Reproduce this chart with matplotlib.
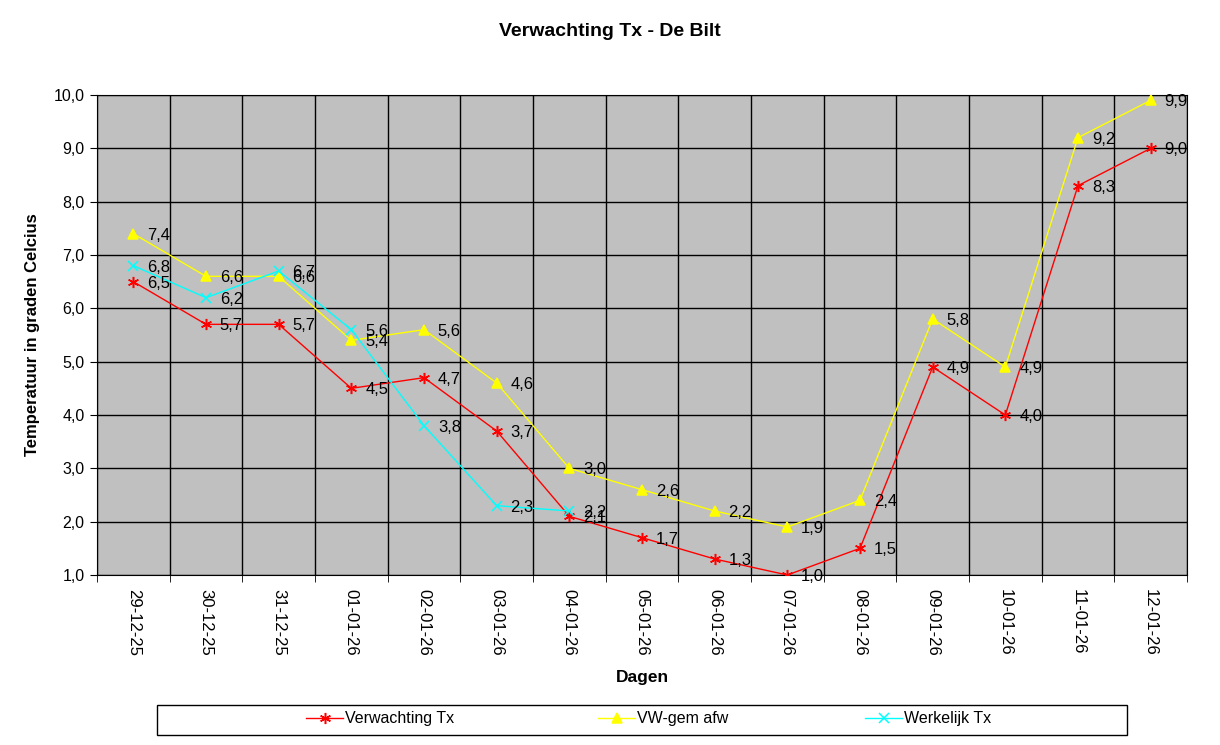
import numpy as np
import matplotlib.pyplot as plt
from matplotlib.patches import Rectangle

dagen = ['29-12-25', '30-12-25', '31-12-25', '01-01-26', '02-01-26', '03-01-26',
         '04-01-26', '05-01-26', '06-01-26', '07-01-26', '08-01-26', '09-01-26',
         '10-01-26', '11-01-26', '12-01-26']
verwachting = [6.5, 5.7, 5.7, 4.5, 4.7, 3.7, 2.1, 1.7, 1.3, 1.0, 1.5, 4.9, 4.0, 8.3, 9.0]
vw_gem = [7.4, 6.6, 6.6, 5.4, 5.6, 4.6, 3.0, 2.6, 2.2, 1.9, 2.4, 5.8, 4.9, 9.2, 9.9]
werkelijk = [6.8, 6.2, 6.7, 5.6, 3.8, 2.3, 2.2]

plt.rcParams['font.family'] = ['Liberation Sans', 'DejaVu Sans']

W, H = 1220, 745
fig = plt.figure(figsize=(W / 100, H / 100), dpi=100)
ax = fig.add_axes([97 / W, 1 - 575 / H, 1090 / W, 480 / H])
ax.set_facecolor('#c0c0c0')

x = np.arange(len(dagen))
series = [
    (verwachting, 'Verwachting Tx', 'red', (6, 2, 0), 8),
    (vw_gem, 'VW-gem afw', 'yellow', '^', 7),
    (werkelijk, 'Werkelijk Tx', 'cyan', 'x', 7),
]
handles = []
for vals, name, col, mk, ms in series:
    xs = x[:len(vals)]
    h, = ax.plot(xs, vals, color=col, lw=1, marker=mk, ms=ms, mew=1.1,
                 mfc=col, mec=col, label=name, zorder=3)
    handles.append(h)
    for xi, v in zip(xs, vals):
        ax.annotate(f'{v:.1f}'.replace('.', ','), (xi, v), xytext=(10, -1),
                    textcoords='offset points', ha='left', va='center',
                    fontsize=12, zorder=4)

ax.set_xlim(-0.5, len(dagen) - 0.5)
ax.set_ylim(1, 10)
ax.set_yticks(np.arange(1, 11))
ax.set_yticklabels([f'{v:.1f}'.replace('.', ',') for v in range(1, 11)], fontsize=11.5)
ax.set_xticks(x)
ax.set_xticklabels(dagen, rotation=-90, fontsize=12)
ax.set_xticks(np.arange(-0.5, len(dagen)), minor=True)
ax.tick_params(axis='x', which='major', length=0, pad=10)
ax.tick_params(axis='x', which='minor', length=5, direction='out')
ax.tick_params(axis='y', length=5, direction='out', pad=4)
ax.grid(True, which='minor', axis='x', color='black', lw=1)
ax.grid(True, which='major', axis='y', color='black', lw=1)
for s in ax.spines.values():
    s.set_color('black')

ax.set_xlabel('Dagen', fontsize=12.5, fontweight='bold', labelpad=10)
ax.set_ylabel('Temperatuur in graden Celcius', fontsize=12, fontweight='bold', labelpad=10)
fig.text(0.5, 1 - 32 / H, 'Verwachting Tx - De Bilt', ha='center', va='center',
         fontsize=14, fontweight='bold')

# legend box with three separately placed entries
fig.patches.append(Rectangle((157 / W, 1 - 735 / H), 970 / W, 30 / H, transform=fig.transFigure,
                             facecolor='white', edgecolor='black', lw=1))
for h, cx in zip(handles, [380, 663, 928]):
    fig.legend(handles=[h], loc='center', bbox_to_anchor=(cx / W, 1 - 719 / H), frameon=False,
               fontsize=11.5, handlelength=2.3, handletextpad=0.1)

fig.savefig('out.png', dpi=100)
